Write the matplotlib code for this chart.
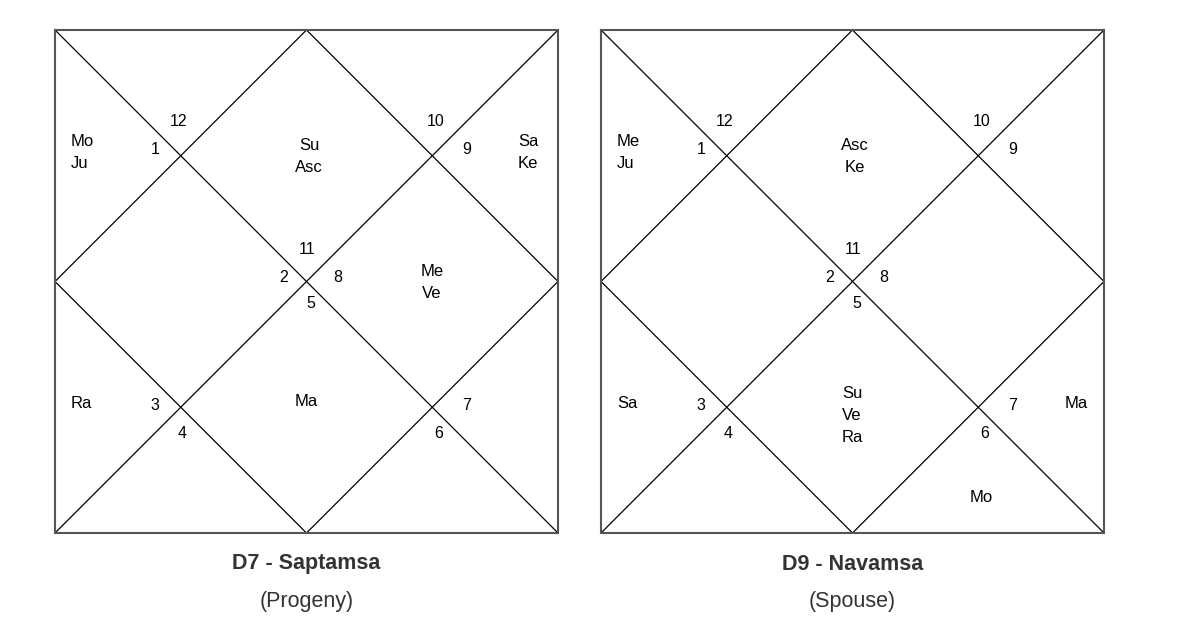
import matplotlib
matplotlib.use("Agg")
import matplotlib.pyplot as plt

plt.rcParams['font.family'] = ['Liberation Sans', 'DejaVu Sans']

# ---- data ----
chart_titles = ["D7 - Saptamsa", "D9 - Navamsa"]
chart_subtitles = ["(Progeny)", "(Spouse)"]
# sign number in each house 1..12
signs_d7 = [11, 12, 1, 2, 3, 4, 5, 6, 7, 8, 9, 10]
signs_d9 = [11, 12, 1, 2, 3, 4, 5, 6, 7, 8, 9, 10]
# planets in each house 1..12
planets_d7 = [["Su", "Asc"], [], ["Mo", "Ju"], [], ["Ra"], [], ["Ma"], [], [], ["Me", "Ve"], ["Sa", "Ke"], []]
planets_d9 = [["Asc", "Ke"], [], ["Me", "Ju"], [], ["Sa"], [], ["Su", "Ve", "Ra"], ["Mo"], ["Ma"], [], [], []]

# ---- layout (pixels relative to square origin, square size 503) ----
W, H = 1177, 638
SIZE = 503
origins = [(55, 30), (601, 30)]
TEXT_DY = 2
sign_pos = [(252, 218), (124, 90), (100, 118), (229, 246), (100, 374), (127, 402),
            (256, 272), (384, 402), (412, 374), (283, 246), (412, 117), (381, 90)]
# (x, base_y, ha) for planet blocks
planet_pos = [(254, 116.5, 'center'), (124, 50, 'center'), (16, 113.5, 'left'),
              (130, 246, 'center'), (16, 371, 'left'), (124, 450, 'center'),
              (251, 369, 'center'), (380, 466, 'center'), (475, 371, 'center'),
              (377, 242.5, 'center'), (473, 113.5, 'center'), (380, 50, 'center')]
LINE = 22

fig = plt.figure(figsize=(W / 100, H / 100), dpi=100)
ax = fig.add_axes([0, 0, 1, 1])
ax.set_xlim(0, W)
ax.set_ylim(H, 0)
ax.axis('off')

charts = [(signs_d7, planets_d7), (signs_d9, planets_d9)]
for ci, (signs, planets) in enumerate(charts):
    ox, oy = origins[ci]
    s = SIZE
    # diagonals
    ax.plot([ox, ox + s], [oy, oy + s], color='black', lw=0.9)
    ax.plot([ox + s, ox], [oy, oy + s], color='black', lw=0.9)
    # inner diamond
    ax.plot([ox + s / 2, ox + s, ox + s / 2, ox, ox + s / 2],
            [oy, oy + s / 2, oy + s, oy + s / 2, oy], color='black', lw=0.9)
    # outer border
    ax.plot([ox, ox + s, ox + s, ox, ox], [oy, oy, oy + s, oy + s, oy],
            color='#555555', lw=1.5, solid_joinstyle='miter')
    for h in range(12):
        sx, sy = sign_pos[h]
        ax.text(ox + sx, oy + sy + TEXT_DY, str(signs[h]), ha='center', va='center',
                fontsize=11.5, color='black')
        pl = planets[h]
        if pl:
            px, base, ha = planet_pos[h]
            first = base - 3.5 * (len(pl) - 1)
            for k, p in enumerate(pl):
                ax.text(ox + px, oy + first + k * LINE + TEXT_DY, p, ha=ha, va='center',
                        fontsize=12, color='black')
    cx = ox + s / 2
    ax.text(cx, 564, chart_titles[ci], ha='center', va='center', fontsize=15.5,
            fontweight='bold', color='#333333')
    ax.text(cx, 602, chart_subtitles[ci], ha='center', va='center', fontsize=15.5,
            color='#333333')

fig.savefig('out.png', dpi=100, facecolor='white')
